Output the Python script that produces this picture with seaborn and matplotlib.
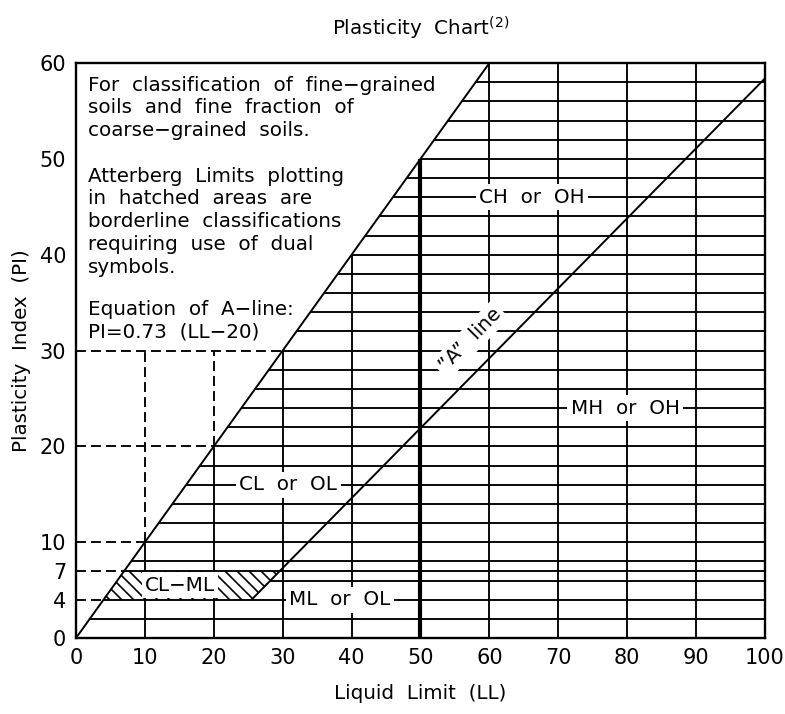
import numpy as np
import matplotlib
matplotlib.use("Agg")
import matplotlib.pyplot as plt
import seaborn as sns
from matplotlib.patches import Polygon

# axis ticks
ll_ticks = [0, 10, 20, 30, 40, 50, 60, 70, 80, 90, 100]
pi_ticks = [0, 4, 7, 10, 20, 30, 40, 50, 60]

# A-line: PI = 0.73 (LL - 20), U-limit: PI = LL
a_slope = 0.73
a_ll0 = 20
u_ll = [0, 60]
u_pi = [0, 60]

# horizontal hatching levels (PI) and extra boundary at 7
hatch_pi = [2, 4, 6, 8, 10, 12, 14, 16, 18, 20, 22, 24, 26, 28, 30,
            32, 34, 36, 38, 40, 42, 44, 46, 48, 50, 52, 54, 56, 58, 7]
cl_ml_low = 4
cl_ml_high = 7

# vertical grid
grid_ll = [10, 20, 30, 40, 60, 70, 80, 90]
ll_split = 50
ll_split_top = 50

# dashed reading guides
dashed_pi = [4, 7, 10, 20, 30]
dashed_ll = [10, 20]
dashed_top = 30

# zone labels
zone_labels = ["CL  or  OL", "CH  or  OH", "MH  or  OH", "ML  or  OL", "CL\u2212ML"]
zone_ll = [30.8, 66.2, 79.7, 38.3, 15.1]
zone_pi = [16, 46, 24, 4, 5.5]

notes = ["For  classification  of  fine\u2212grained\nsoils  and  fine  fraction  of\ncoarse\u2212grained  soils.",
         "Atterberg  Limits  plotting\nin  hatched  areas  are\nborderline  classifications\nrequiring  use  of  dual\nsymbols.",
         "Equation  of  A\u2212line:\nPI=0.73  (LL\u221220)"]
notes_pi = [58.7, 49.2, 35.3]

sns.set_style("white")
plt.rcParams['font.family'] = ['DejaVu Sans']
plt.rcParams['mathtext.default'] = 'regular'
for key in ['text.color', 'axes.labelcolor', 'xtick.color', 'ytick.color']:
    plt.rcParams[key] = 'black'

fs = 14.3
fig = plt.figure(figsize=(7.85, 7.14), dpi=100)
ax = fig.add_axes([0.0968, 0.1064, 0.8777, 0.8053])
ax.set_xlim(0, 100)
ax.set_ylim(0, 60)

lw = 1.35
# U line and A line
sns.lineplot(x=u_ll, y=u_pi, color="black", lw=1.4, ax=ax)
a_start = cl_ml_low / a_slope + a_ll0
a_x = [a_start, 100]
a_y = [a_slope * (x - a_ll0) for x in a_x]
sns.lineplot(x=a_x, y=a_y, color="black", lw=1.4, ax=ax)

# horizontal hatching
for p in hatch_pi:
    start = p
    if cl_ml_low < p < cl_ml_high:
        start = p / a_slope + a_ll0
    ax.hlines(p, start, 100, color="black", lw=lw, zorder=1)

# vertical grid lines inside the chart
for x in grid_ll:
    ax.vlines(x, 0, min(x, 60), color="black", lw=lw, zorder=1)
ax.vlines(ll_split, 0, ll_split_top, color="black", lw=3, zorder=2)

# dashed guides
dash = (0, (5.3, 2.7))
for p in dashed_pi:
    ax.hlines(p, 0, p, color="black", lw=lw, linestyles=[dash], zorder=1)
for x in dashed_ll:
    ax.vlines(x, x, dashed_top, color="black", lw=lw, linestyles=[dash], zorder=1)

# CL-ML hatched band
poly_pts = [(cl_ml_low, cl_ml_low), (cl_ml_high, cl_ml_high),
            (cl_ml_high / a_slope + a_ll0, cl_ml_high),
            (cl_ml_low / a_slope + a_ll0, cl_ml_low)]
band = Polygon(poly_pts, closed=True, facecolor="none", edgecolor="none")
ax.add_patch(band)
fig.canvas.draw()
sx = ax.transData.transform((1, 0))[0] - ax.transData.transform((0, 0))[0]
sy = ax.transData.transform((0, 1))[1] - ax.transData.transform((0, 0))[1]
step = 12.0
ks = np.arange(0, 100 * sx + 60 * sy, step)
for k in ks:
    yy = np.array([cl_ml_low - 1, cl_ml_high + 1])
    xx = (k - yy * sy) / sx
    ln, = ax.plot(xx, yy, color="black", lw=1.2, zorder=1)
    ln.set_clip_path(band)

# zone labels
for lab, x, y in zip(zone_labels, zone_ll, zone_pi):
    ax.text(x, y, lab, ha="center", va="center", fontsize=fs, zorder=5,
            bbox=dict(facecolor="white", edgecolor="none", pad=2.5))

ang = np.degrees(np.arctan2(a_slope * sy, sx))
ax.text(57.2, 31.1, "\u201dA\u201d  line", ha="center", va="center", fontsize=fs,
        rotation=ang, rotation_mode="anchor", zorder=5,
        bbox=dict(facecolor="white", edgecolor="none", pad=2.5))

for t, y in zip(notes, notes_pi):
    ax.text(1.7, y, t, ha="left", va="top", fontsize=fs, linespacing=1.26, zorder=5)

ax.set_xticks(ll_ticks)
ax.set_yticks(pi_ticks)
ax.tick_params(axis="x", length=0, pad=7, labelsize=15)
ax.tick_params(axis="y", direction="in", length=7, width=1.3, pad=7, labelsize=15)
for s in ax.spines.values():
    s.set_color("black")
    s.set_linewidth(1.7)

ax.set_xlabel("Liquid  Limit  (LL)", fontsize=fs, labelpad=12)
ax.set_ylabel("Plasticity  Index  (PI)", fontsize=fs, labelpad=6)
ax.set_title("Plasticity  Chart$^{(2)}$", fontsize=fs, pad=20)

fig.savefig("out.png", dpi=100)
